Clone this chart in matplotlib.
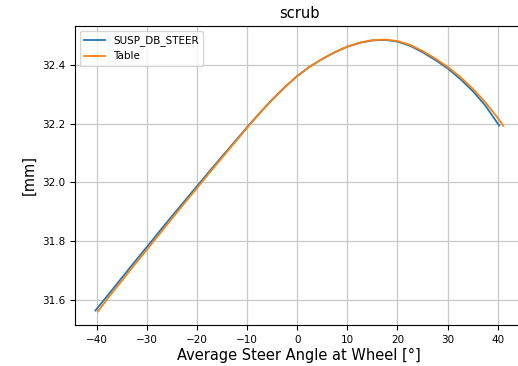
import matplotlib
matplotlib.use("Agg")
import matplotlib.pyplot as plt

# SUSP_DB_STEER series
x_susp = [-40.3, -37.5, -35, -32.5, -30, -27.5, -25, -22.5, -20, -17.5, -15, -12.5,
          -10, -7.5, -5, -2.5, 0, 2.5, 5, 7.5, 10, 12.5, 15, 17.5, 20, 22.5, 25,
          27.5, 30, 32.5, 35, 37.5, 40.3]
y_susp = [31.563, 31.622, 31.675, 31.728, 31.780, 31.833, 31.885, 31.936, 31.987,
          32.038, 32.088, 32.138, 32.188, 32.236, 32.282, 32.324, 32.362, 32.394,
          32.420, 32.443, 32.462, 32.475, 32.483, 32.485, 32.479, 32.465, 32.443,
          32.417, 32.388, 32.352, 32.311, 32.262, 32.193]

# Table series
x_table = [-39.8, -37.5, -35, -32.5, -30, -27.5, -25, -22.5, -20, -17.5, -15, -12.5,
           -10, -7.5, -5, -2.5, 0, 2.5, 5, 7.5, 10, 12.5, 15, 17.5, 20, 22.5, 25,
           27.5, 30, 32.5, 35, 37.5, 40, 41.1]
y_table = [31.560, 31.612, 31.665, 31.719, 31.771, 31.824, 31.877, 31.929, 31.981,
           32.033, 32.084, 32.135, 32.186, 32.235, 32.281, 32.324, 32.362, 32.394,
           32.420, 32.443, 32.462, 32.476, 32.484, 32.486, 32.481, 32.468, 32.447,
           32.422, 32.393, 32.359, 32.319, 32.273, 32.219, 32.192]

fig = plt.figure(figsize=(5.18, 3.66), dpi=100)
ax = fig.add_axes([0.1448, 0.112, 0.866, 0.817])
ax.plot(x_susp, y_susp, color="#1f77b4", lw=1.3, label="SUSP_DB_STEER")
ax.plot(x_table, y_table, color="#ff7f0e", lw=1.3, label="Table")
ax.grid(True, color="#c8c8c8", lw=0.9)
ax.set_yticks([31.6, 31.8, 32.0, 32.2, 32.4])
ax.set_xticks([-40, -30, -20, -10, 0, 10, 20, 30, 40])
ax.tick_params(labelsize=7.5)
ax.set_title("scrub", fontsize=10.5)
ax.set_xlabel("Average Steer Angle at Wheel [°]", fontsize=10.5, labelpad=2)
ax.set_ylabel("[mm]", fontsize=10.5)
ax.legend(loc="upper left", fontsize=7.5)
fig.savefig("out.png", dpi=100)
